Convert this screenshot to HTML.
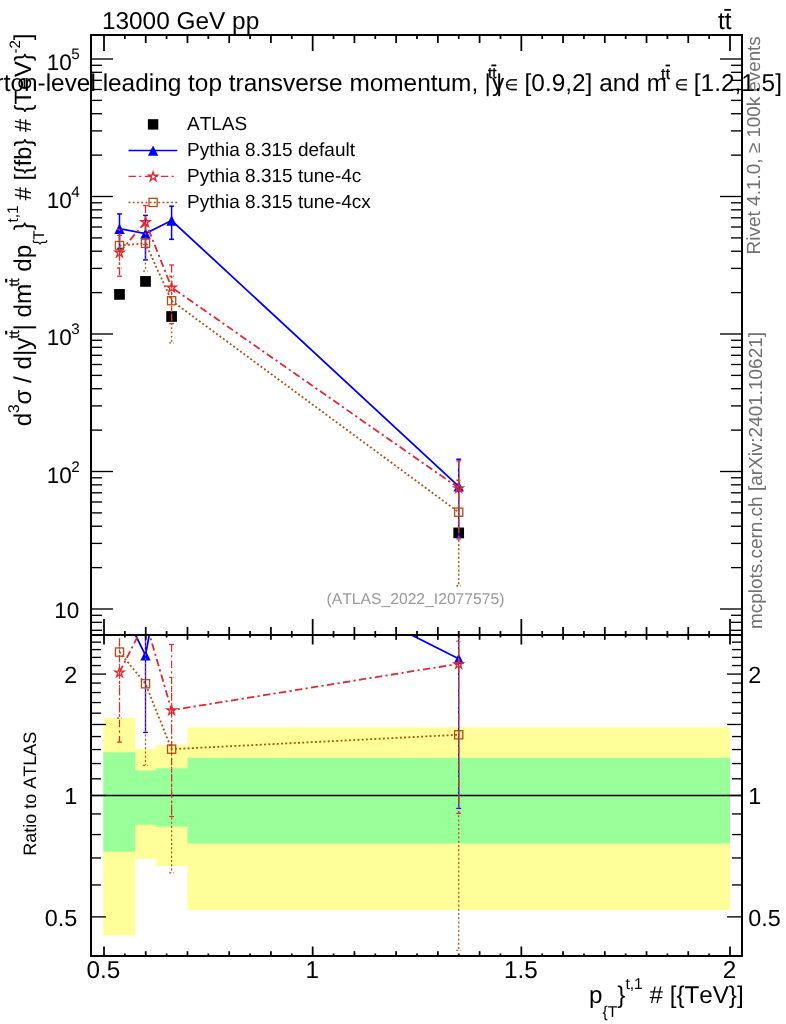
<!DOCTYPE html>
<html><head><meta charset="utf-8"><title>plot</title><style>html,body{margin:0;padding:0;background:#fff}body{width:786px;height:1024px;overflow:hidden}</style></head><body>
<svg width="786" height="1024" viewBox="0 0 786 1024" font-family="'Liberation Sans', sans-serif" xml:space="preserve" style="display:block;white-space:pre;font-kerning:none;text-rendering:geometricPrecision;will-change:transform">
<rect width="786" height="1024" fill="#fff"/>
<defs>
<clipPath id="cm"><rect x="91.0" y="35.0" width="651.0" height="600.0"/></clipPath>
<clipPath id="cr"><rect x="91.0" y="635.0" width="651.0" height="321.0"/></clipPath>
</defs>
<path d="M103.30 718.00 L135.30 718.00 L135.30 748.90 L156.17 748.90 L156.17 745.00 L187.47 745.00 L187.47 727.20 L730.00 727.20 L730.00 910.00 L187.47 910.00 L187.47 865.90 L156.17 865.90 L156.17 858.90 L135.30 858.90 L135.30 935.50 L103.30 935.50 Z" fill="#ffff99"/>
<path d="M103.30 752.20 L135.30 752.20 L135.30 770.50 L156.17 770.50 L156.17 768.20 L187.47 768.20 L187.47 757.70 L730.00 757.70 L730.00 843.60 L187.47 843.60 L187.47 826.80 L156.17 826.80 L156.17 824.80 L135.30 824.80 L135.30 851.70 L103.30 851.70 Z" fill="#99ff99"/>
<line x1="91.0" y1="795.5" x2="742.0" y2="795.5" stroke="#000" stroke-width="1.3"/>
<g clip-path="url(#cm)">
<rect x="114.15" y="289.05" width="10.7" height="10.7" fill="#000"/>
<rect x="140.15" y="276.05" width="10.7" height="10.7" fill="#000"/>
<rect x="166.25" y="311.15" width="10.7" height="10.7" fill="#000"/>
<rect x="453.35" y="527.55" width="10.7" height="10.7" fill="#000"/>
<polyline points="119.50,228.70 145.50,233.60 171.60,220.50 458.70,486.30" fill="none" stroke="#0000ff" stroke-width="1.8" />
<line x1="119.50" y1="213.90" x2="119.50" y2="248.42" stroke="#0000ff" stroke-width="1.5" /><line x1="117.10" y1="213.90" x2="121.90" y2="213.90" stroke="#0000ff" stroke-width="1.5" /><line x1="117.10" y1="248.42" x2="121.90" y2="248.42" stroke="#0000ff" stroke-width="1.5" />
<line x1="145.50" y1="215.40" x2="145.50" y2="259.91" stroke="#0000ff" stroke-width="1.5" /><line x1="143.10" y1="215.40" x2="147.90" y2="215.40" stroke="#0000ff" stroke-width="1.5" /><line x1="143.10" y1="259.91" x2="147.90" y2="259.91" stroke="#0000ff" stroke-width="1.5" />
<line x1="171.60" y1="206.20" x2="171.60" y2="239.34" stroke="#0000ff" stroke-width="1.5" /><line x1="169.20" y1="206.20" x2="174.00" y2="206.20" stroke="#0000ff" stroke-width="1.5" /><line x1="169.20" y1="239.34" x2="174.00" y2="239.34" stroke="#0000ff" stroke-width="1.5" />
<line x1="458.70" y1="459.20" x2="458.70" y2="537.30" stroke="#0000ff" stroke-width="1.5" /><line x1="456.30" y1="459.20" x2="461.10" y2="459.20" stroke="#0000ff" stroke-width="1.5" /><line x1="456.30" y1="537.30" x2="461.10" y2="537.30" stroke="#0000ff" stroke-width="1.5" />
<polygon points="119.50,223.50 114.30,233.90 124.70,233.90" fill="#0000ff"/>
<polygon points="145.50,228.40 140.30,238.80 150.70,238.80" fill="#0000ff"/>
<polygon points="171.60,215.30 166.40,225.70 176.80,225.70" fill="#0000ff"/>
<polygon points="458.70,481.10 453.50,491.50 463.90,491.50" fill="#0000ff"/>
<polyline points="119.50,252.40 145.50,221.90 171.60,287.40 458.70,488.00" fill="none" stroke="#e32832" stroke-width="1.8" stroke-dasharray="7.4 3.3 2.2 3.3"/>
<line x1="119.50" y1="235.43" x2="119.50" y2="276.20" stroke="#e32832" stroke-width="1.3" stroke-dasharray="7.4 3.3 2.2 3.3"/><line x1="117.10" y1="235.43" x2="121.90" y2="235.43" stroke="#e32832" stroke-width="1.3" stroke-dasharray="7.4 3.3 2.2 3.3"/><line x1="117.10" y1="276.20" x2="121.90" y2="276.20" stroke="#e32832" stroke-width="1.3" stroke-dasharray="7.4 3.3 2.2 3.3"/>
<line x1="145.50" y1="205.50" x2="145.50" y2="244.58" stroke="#e32832" stroke-width="1.3" stroke-dasharray="7.4 3.3 2.2 3.3"/><line x1="143.10" y1="205.50" x2="147.90" y2="205.50" stroke="#e32832" stroke-width="1.3" stroke-dasharray="7.4 3.3 2.2 3.3"/><line x1="143.10" y1="244.58" x2="147.90" y2="244.58" stroke="#e32832" stroke-width="1.3" stroke-dasharray="7.4 3.3 2.2 3.3"/>
<line x1="171.60" y1="265.00" x2="171.60" y2="323.66" stroke="#e32832" stroke-width="1.3" stroke-dasharray="7.4 3.3 2.2 3.3"/><line x1="169.20" y1="265.00" x2="174.00" y2="265.00" stroke="#e32832" stroke-width="1.3" stroke-dasharray="7.4 3.3 2.2 3.3"/><line x1="169.20" y1="323.66" x2="174.00" y2="323.66" stroke="#e32832" stroke-width="1.3" stroke-dasharray="7.4 3.3 2.2 3.3"/>
<line x1="458.70" y1="460.90" x2="458.70" y2="539.00" stroke="#e32832" stroke-width="1.3" stroke-dasharray="7.4 3.3 2.2 3.3"/><line x1="456.30" y1="460.90" x2="461.10" y2="460.90" stroke="#e32832" stroke-width="1.3" stroke-dasharray="7.4 3.3 2.2 3.3"/><line x1="456.30" y1="539.00" x2="461.10" y2="539.00" stroke="#e32832" stroke-width="1.3" stroke-dasharray="7.4 3.3 2.2 3.3"/>
<polygon points="119.50,247.85 120.59,251.20 124.11,251.20 121.26,253.27 122.35,256.62 119.50,254.55 116.65,256.62 117.74,253.27 114.89,251.20 118.41,251.20" fill="none" stroke="#e32832" stroke-width="1.35" stroke-linejoin="miter"/>
<polygon points="145.50,217.35 146.59,220.70 150.11,220.70 147.26,222.77 148.35,226.12 145.50,224.05 142.65,226.12 143.74,222.77 140.89,220.70 144.41,220.70" fill="none" stroke="#e32832" stroke-width="1.35" stroke-linejoin="miter"/>
<polygon points="171.60,282.85 172.69,286.20 176.21,286.20 173.36,288.27 174.45,291.62 171.60,289.55 168.75,291.62 169.84,288.27 166.99,286.20 170.51,286.20" fill="none" stroke="#e32832" stroke-width="1.35" stroke-linejoin="miter"/>
<polygon points="458.70,483.45 459.79,486.80 463.31,486.80 460.46,488.87 461.55,492.22 458.70,490.15 455.85,492.22 456.94,488.87 454.09,486.80 457.61,486.80" fill="none" stroke="#e32832" stroke-width="1.35" stroke-linejoin="miter"/>
<polyline points="119.50,245.50 145.50,243.30 171.60,300.70 458.70,512.20" fill="none" stroke="#b04e14" stroke-width="1.8" stroke-dasharray="1.9 2.35"/>
<line x1="119.50" y1="229.20" x2="119.50" y2="268.00" stroke="#b04e14" stroke-width="1.4" stroke-dasharray="1.9 2.35"/><line x1="117.10" y1="229.20" x2="121.90" y2="229.20" stroke="#b04e14" stroke-width="1.4" stroke-dasharray="1.9 2.35"/><line x1="117.10" y1="268.00" x2="121.90" y2="268.00" stroke="#b04e14" stroke-width="1.4" stroke-dasharray="1.9 2.35"/>
<line x1="145.50" y1="224.40" x2="145.50" y2="271.10" stroke="#b04e14" stroke-width="1.4" stroke-dasharray="1.9 2.35"/><line x1="143.10" y1="224.40" x2="147.90" y2="224.40" stroke="#b04e14" stroke-width="1.4" stroke-dasharray="1.9 2.35"/><line x1="143.10" y1="271.10" x2="147.90" y2="271.10" stroke="#b04e14" stroke-width="1.4" stroke-dasharray="1.9 2.35"/>
<line x1="171.60" y1="276.22" x2="171.60" y2="342.90" stroke="#b04e14" stroke-width="1.4" stroke-dasharray="1.9 2.35"/><line x1="169.20" y1="276.22" x2="174.00" y2="276.22" stroke="#b04e14" stroke-width="1.4" stroke-dasharray="1.9 2.35"/><line x1="169.20" y1="342.90" x2="174.00" y2="342.90" stroke="#b04e14" stroke-width="1.4" stroke-dasharray="1.9 2.35"/>
<line x1="458.70" y1="480.23" x2="458.70" y2="585.70" stroke="#b04e14" stroke-width="1.4" stroke-dasharray="1.9 2.35"/><line x1="456.30" y1="480.23" x2="461.10" y2="480.23" stroke="#b04e14" stroke-width="1.4" stroke-dasharray="1.9 2.35"/><line x1="456.30" y1="585.70" x2="461.10" y2="585.70" stroke="#b04e14" stroke-width="1.4" stroke-dasharray="1.9 2.35"/>
<rect x="115.40" y="241.40" width="8.2" height="8.2" fill="none" stroke="#b04e14" stroke-width="1.3"/>
<rect x="141.40" y="239.20" width="8.2" height="8.2" fill="none" stroke="#b04e14" stroke-width="1.3"/>
<rect x="167.50" y="296.60" width="8.2" height="8.2" fill="none" stroke="#b04e14" stroke-width="1.3"/>
<rect x="454.60" y="508.10" width="8.2" height="8.2" fill="none" stroke="#b04e14" stroke-width="1.3"/>
</g>
<g clip-path="url(#cr)">
<polyline points="119.50,602.80 145.50,655.30 171.60,513.92 458.70,658.82" fill="none" stroke="#0000ff" stroke-width="1.8" />
<line x1="145.50" y1="601.92" x2="145.50" y2="732.46" stroke="#0000ff" stroke-width="1.3" /><line x1="143.10" y1="601.92" x2="147.90" y2="601.92" stroke="#0000ff" stroke-width="1.3" /><line x1="143.10" y1="732.46" x2="147.90" y2="732.46" stroke="#0000ff" stroke-width="1.3" />
<line x1="458.70" y1="579.33" x2="458.70" y2="808.41" stroke="#0000ff" stroke-width="1.3" /><line x1="456.30" y1="579.33" x2="461.10" y2="579.33" stroke="#0000ff" stroke-width="1.3" /><line x1="456.30" y1="808.41" x2="461.10" y2="808.41" stroke="#0000ff" stroke-width="1.3" />
<polygon points="119.50,597.60 114.30,608.00 124.70,608.00" fill="#0000ff"/>
<polygon points="145.50,650.10 140.30,660.50 150.70,660.50" fill="#0000ff"/>
<polygon points="171.60,508.72 166.40,519.12 176.80,519.12" fill="#0000ff"/>
<polygon points="458.70,653.62 453.50,664.02 463.90,664.02" fill="#0000ff"/>
<polyline points="119.50,672.31 145.50,620.98 171.60,710.15 458.70,663.80" fill="none" stroke="#e32832" stroke-width="1.8" stroke-dasharray="7.4 3.3 2.2 3.3"/>
<line x1="119.50" y1="622.53" x2="119.50" y2="742.12" stroke="#e32832" stroke-width="1.2" stroke-dasharray="7.4 3.3 2.2 3.3"/><line x1="117.10" y1="622.53" x2="121.90" y2="622.53" stroke="#e32832" stroke-width="1.2" stroke-dasharray="7.4 3.3 2.2 3.3"/><line x1="117.10" y1="742.12" x2="121.90" y2="742.12" stroke="#e32832" stroke-width="1.2" stroke-dasharray="7.4 3.3 2.2 3.3"/>
<line x1="171.60" y1="644.45" x2="171.60" y2="816.51" stroke="#e32832" stroke-width="1.2" stroke-dasharray="7.4 3.3 2.2 3.3"/><line x1="169.20" y1="644.45" x2="174.00" y2="644.45" stroke="#e32832" stroke-width="1.2" stroke-dasharray="7.4 3.3 2.2 3.3"/><line x1="169.20" y1="816.51" x2="174.00" y2="816.51" stroke="#e32832" stroke-width="1.2" stroke-dasharray="7.4 3.3 2.2 3.3"/>
<line x1="458.70" y1="584.32" x2="458.70" y2="813.39" stroke="#e32832" stroke-width="1.2" stroke-dasharray="7.4 3.3 2.2 3.3"/><line x1="456.30" y1="584.32" x2="461.10" y2="584.32" stroke="#e32832" stroke-width="1.2" stroke-dasharray="7.4 3.3 2.2 3.3"/><line x1="456.30" y1="813.39" x2="461.10" y2="813.39" stroke="#e32832" stroke-width="1.2" stroke-dasharray="7.4 3.3 2.2 3.3"/>
<polygon points="119.50,667.76 120.59,671.11 124.11,671.11 121.26,673.18 122.35,676.53 119.50,674.46 116.65,676.53 117.74,673.18 114.89,671.11 118.41,671.11" fill="none" stroke="#e32832" stroke-width="1.35" stroke-linejoin="miter"/>
<polygon points="145.50,616.43 146.59,619.78 150.11,619.78 147.26,621.85 148.35,625.20 145.50,623.13 142.65,625.20 143.74,621.85 140.89,619.78 144.41,619.78" fill="none" stroke="#e32832" stroke-width="1.35" stroke-linejoin="miter"/>
<polygon points="171.60,705.60 172.69,708.95 176.21,708.95 173.36,711.02 174.45,714.37 171.60,712.30 168.75,714.37 169.84,711.02 166.99,708.95 170.51,708.95" fill="none" stroke="#e32832" stroke-width="1.35" stroke-linejoin="miter"/>
<polygon points="458.70,659.25 459.79,662.61 463.31,662.61 460.46,664.68 461.55,668.03 458.70,665.96 455.85,668.03 456.94,664.68 454.09,662.61 457.61,662.61" fill="none" stroke="#e32832" stroke-width="1.35" stroke-linejoin="miter"/>
<polyline points="119.50,652.07 145.50,683.75 171.60,749.16 458.70,734.79" fill="none" stroke="#b04e14" stroke-width="1.8" stroke-dasharray="1.9 2.35"/>
<line x1="119.50" y1="604.25" x2="119.50" y2="718.07" stroke="#b04e14" stroke-width="1.2" stroke-dasharray="1.9 2.35"/><line x1="117.10" y1="604.25" x2="121.90" y2="604.25" stroke="#b04e14" stroke-width="1.2" stroke-dasharray="1.9 2.35"/><line x1="117.10" y1="718.07" x2="121.90" y2="718.07" stroke="#b04e14" stroke-width="1.2" stroke-dasharray="1.9 2.35"/>
<line x1="145.50" y1="628.33" x2="145.50" y2="765.29" stroke="#b04e14" stroke-width="1.2" stroke-dasharray="1.9 2.35"/><line x1="143.10" y1="628.33" x2="147.90" y2="628.33" stroke="#b04e14" stroke-width="1.2" stroke-dasharray="1.9 2.35"/><line x1="143.10" y1="765.29" x2="147.90" y2="765.29" stroke="#b04e14" stroke-width="1.2" stroke-dasharray="1.9 2.35"/>
<line x1="171.60" y1="677.36" x2="171.60" y2="872.93" stroke="#b04e14" stroke-width="1.2" stroke-dasharray="1.9 2.35"/><line x1="169.20" y1="677.36" x2="174.00" y2="677.36" stroke="#b04e14" stroke-width="1.2" stroke-dasharray="1.9 2.35"/><line x1="169.20" y1="872.93" x2="174.00" y2="872.93" stroke="#b04e14" stroke-width="1.2" stroke-dasharray="1.9 2.35"/>
<line x1="458.70" y1="641.03" x2="458.70" y2="950.37" stroke="#b04e14" stroke-width="1.2" stroke-dasharray="1.9 2.35"/><line x1="456.30" y1="641.03" x2="461.10" y2="641.03" stroke="#b04e14" stroke-width="1.2" stroke-dasharray="1.9 2.35"/><line x1="456.30" y1="950.37" x2="461.10" y2="950.37" stroke="#b04e14" stroke-width="1.2" stroke-dasharray="1.9 2.35"/>
<rect x="115.40" y="647.97" width="8.2" height="8.2" fill="none" stroke="#b04e14" stroke-width="1.3"/>
<rect x="141.40" y="679.65" width="8.2" height="8.2" fill="none" stroke="#b04e14" stroke-width="1.3"/>
<rect x="167.50" y="745.06" width="8.2" height="8.2" fill="none" stroke="#b04e14" stroke-width="1.3"/>
<rect x="454.60" y="730.69" width="8.2" height="8.2" fill="none" stroke="#b04e14" stroke-width="1.3"/>
</g>
<line x1="104.00" y1="35.00" x2="104.00" y2="51.00" stroke="#000" stroke-width="1.75"/>
<line x1="104.00" y1="635.00" x2="104.00" y2="619.00" stroke="#000" stroke-width="1.75"/>
<line x1="104.00" y1="635.00" x2="104.00" y2="644.50" stroke="#000" stroke-width="1.75"/>
<line x1="104.00" y1="956.00" x2="104.00" y2="946.50" stroke="#000" stroke-width="1.75"/>
<line x1="124.87" y1="35.00" x2="124.87" y2="39.00" stroke="#000" stroke-width="1.75"/>
<line x1="124.87" y1="635.00" x2="124.87" y2="631.00" stroke="#000" stroke-width="1.75"/>
<line x1="124.87" y1="635.00" x2="124.87" y2="637.50" stroke="#000" stroke-width="1.75"/>
<line x1="124.87" y1="956.00" x2="124.87" y2="953.50" stroke="#000" stroke-width="1.75"/>
<line x1="145.73" y1="35.00" x2="145.73" y2="43.00" stroke="#000" stroke-width="1.75"/>
<line x1="145.73" y1="635.00" x2="145.73" y2="627.00" stroke="#000" stroke-width="1.75"/>
<line x1="145.73" y1="635.00" x2="145.73" y2="639.80" stroke="#000" stroke-width="1.75"/>
<line x1="145.73" y1="956.00" x2="145.73" y2="951.20" stroke="#000" stroke-width="1.75"/>
<line x1="166.60" y1="35.00" x2="166.60" y2="39.00" stroke="#000" stroke-width="1.75"/>
<line x1="166.60" y1="635.00" x2="166.60" y2="631.00" stroke="#000" stroke-width="1.75"/>
<line x1="166.60" y1="635.00" x2="166.60" y2="637.50" stroke="#000" stroke-width="1.75"/>
<line x1="166.60" y1="956.00" x2="166.60" y2="953.50" stroke="#000" stroke-width="1.75"/>
<line x1="187.47" y1="35.00" x2="187.47" y2="43.00" stroke="#000" stroke-width="1.75"/>
<line x1="187.47" y1="635.00" x2="187.47" y2="627.00" stroke="#000" stroke-width="1.75"/>
<line x1="187.47" y1="635.00" x2="187.47" y2="639.80" stroke="#000" stroke-width="1.75"/>
<line x1="187.47" y1="956.00" x2="187.47" y2="951.20" stroke="#000" stroke-width="1.75"/>
<line x1="208.33" y1="35.00" x2="208.33" y2="39.00" stroke="#000" stroke-width="1.75"/>
<line x1="208.33" y1="635.00" x2="208.33" y2="631.00" stroke="#000" stroke-width="1.75"/>
<line x1="208.33" y1="635.00" x2="208.33" y2="637.50" stroke="#000" stroke-width="1.75"/>
<line x1="208.33" y1="956.00" x2="208.33" y2="953.50" stroke="#000" stroke-width="1.75"/>
<line x1="229.20" y1="35.00" x2="229.20" y2="43.00" stroke="#000" stroke-width="1.75"/>
<line x1="229.20" y1="635.00" x2="229.20" y2="627.00" stroke="#000" stroke-width="1.75"/>
<line x1="229.20" y1="635.00" x2="229.20" y2="639.80" stroke="#000" stroke-width="1.75"/>
<line x1="229.20" y1="956.00" x2="229.20" y2="951.20" stroke="#000" stroke-width="1.75"/>
<line x1="250.07" y1="35.00" x2="250.07" y2="39.00" stroke="#000" stroke-width="1.75"/>
<line x1="250.07" y1="635.00" x2="250.07" y2="631.00" stroke="#000" stroke-width="1.75"/>
<line x1="250.07" y1="635.00" x2="250.07" y2="637.50" stroke="#000" stroke-width="1.75"/>
<line x1="250.07" y1="956.00" x2="250.07" y2="953.50" stroke="#000" stroke-width="1.75"/>
<line x1="270.93" y1="35.00" x2="270.93" y2="43.00" stroke="#000" stroke-width="1.75"/>
<line x1="270.93" y1="635.00" x2="270.93" y2="627.00" stroke="#000" stroke-width="1.75"/>
<line x1="270.93" y1="635.00" x2="270.93" y2="639.80" stroke="#000" stroke-width="1.75"/>
<line x1="270.93" y1="956.00" x2="270.93" y2="951.20" stroke="#000" stroke-width="1.75"/>
<line x1="291.80" y1="35.00" x2="291.80" y2="39.00" stroke="#000" stroke-width="1.75"/>
<line x1="291.80" y1="635.00" x2="291.80" y2="631.00" stroke="#000" stroke-width="1.75"/>
<line x1="291.80" y1="635.00" x2="291.80" y2="637.50" stroke="#000" stroke-width="1.75"/>
<line x1="291.80" y1="956.00" x2="291.80" y2="953.50" stroke="#000" stroke-width="1.75"/>
<line x1="312.67" y1="35.00" x2="312.67" y2="51.00" stroke="#000" stroke-width="1.75"/>
<line x1="312.67" y1="635.00" x2="312.67" y2="619.00" stroke="#000" stroke-width="1.75"/>
<line x1="312.67" y1="635.00" x2="312.67" y2="644.50" stroke="#000" stroke-width="1.75"/>
<line x1="312.67" y1="956.00" x2="312.67" y2="946.50" stroke="#000" stroke-width="1.75"/>
<line x1="333.53" y1="35.00" x2="333.53" y2="39.00" stroke="#000" stroke-width="1.75"/>
<line x1="333.53" y1="635.00" x2="333.53" y2="631.00" stroke="#000" stroke-width="1.75"/>
<line x1="333.53" y1="635.00" x2="333.53" y2="637.50" stroke="#000" stroke-width="1.75"/>
<line x1="333.53" y1="956.00" x2="333.53" y2="953.50" stroke="#000" stroke-width="1.75"/>
<line x1="354.40" y1="35.00" x2="354.40" y2="43.00" stroke="#000" stroke-width="1.75"/>
<line x1="354.40" y1="635.00" x2="354.40" y2="627.00" stroke="#000" stroke-width="1.75"/>
<line x1="354.40" y1="635.00" x2="354.40" y2="639.80" stroke="#000" stroke-width="1.75"/>
<line x1="354.40" y1="956.00" x2="354.40" y2="951.20" stroke="#000" stroke-width="1.75"/>
<line x1="375.27" y1="35.00" x2="375.27" y2="39.00" stroke="#000" stroke-width="1.75"/>
<line x1="375.27" y1="635.00" x2="375.27" y2="631.00" stroke="#000" stroke-width="1.75"/>
<line x1="375.27" y1="635.00" x2="375.27" y2="637.50" stroke="#000" stroke-width="1.75"/>
<line x1="375.27" y1="956.00" x2="375.27" y2="953.50" stroke="#000" stroke-width="1.75"/>
<line x1="396.13" y1="35.00" x2="396.13" y2="43.00" stroke="#000" stroke-width="1.75"/>
<line x1="396.13" y1="635.00" x2="396.13" y2="627.00" stroke="#000" stroke-width="1.75"/>
<line x1="396.13" y1="635.00" x2="396.13" y2="639.80" stroke="#000" stroke-width="1.75"/>
<line x1="396.13" y1="956.00" x2="396.13" y2="951.20" stroke="#000" stroke-width="1.75"/>
<line x1="417.00" y1="35.00" x2="417.00" y2="39.00" stroke="#000" stroke-width="1.75"/>
<line x1="417.00" y1="635.00" x2="417.00" y2="631.00" stroke="#000" stroke-width="1.75"/>
<line x1="417.00" y1="635.00" x2="417.00" y2="637.50" stroke="#000" stroke-width="1.75"/>
<line x1="417.00" y1="956.00" x2="417.00" y2="953.50" stroke="#000" stroke-width="1.75"/>
<line x1="437.87" y1="35.00" x2="437.87" y2="43.00" stroke="#000" stroke-width="1.75"/>
<line x1="437.87" y1="635.00" x2="437.87" y2="627.00" stroke="#000" stroke-width="1.75"/>
<line x1="437.87" y1="635.00" x2="437.87" y2="639.80" stroke="#000" stroke-width="1.75"/>
<line x1="437.87" y1="956.00" x2="437.87" y2="951.20" stroke="#000" stroke-width="1.75"/>
<line x1="458.73" y1="35.00" x2="458.73" y2="39.00" stroke="#000" stroke-width="1.75"/>
<line x1="458.73" y1="635.00" x2="458.73" y2="631.00" stroke="#000" stroke-width="1.75"/>
<line x1="458.73" y1="635.00" x2="458.73" y2="637.50" stroke="#000" stroke-width="1.75"/>
<line x1="458.73" y1="956.00" x2="458.73" y2="953.50" stroke="#000" stroke-width="1.75"/>
<line x1="479.60" y1="35.00" x2="479.60" y2="43.00" stroke="#000" stroke-width="1.75"/>
<line x1="479.60" y1="635.00" x2="479.60" y2="627.00" stroke="#000" stroke-width="1.75"/>
<line x1="479.60" y1="635.00" x2="479.60" y2="639.80" stroke="#000" stroke-width="1.75"/>
<line x1="479.60" y1="956.00" x2="479.60" y2="951.20" stroke="#000" stroke-width="1.75"/>
<line x1="500.47" y1="35.00" x2="500.47" y2="39.00" stroke="#000" stroke-width="1.75"/>
<line x1="500.47" y1="635.00" x2="500.47" y2="631.00" stroke="#000" stroke-width="1.75"/>
<line x1="500.47" y1="635.00" x2="500.47" y2="637.50" stroke="#000" stroke-width="1.75"/>
<line x1="500.47" y1="956.00" x2="500.47" y2="953.50" stroke="#000" stroke-width="1.75"/>
<line x1="521.33" y1="35.00" x2="521.33" y2="51.00" stroke="#000" stroke-width="1.75"/>
<line x1="521.33" y1="635.00" x2="521.33" y2="619.00" stroke="#000" stroke-width="1.75"/>
<line x1="521.33" y1="635.00" x2="521.33" y2="644.50" stroke="#000" stroke-width="1.75"/>
<line x1="521.33" y1="956.00" x2="521.33" y2="946.50" stroke="#000" stroke-width="1.75"/>
<line x1="542.20" y1="35.00" x2="542.20" y2="39.00" stroke="#000" stroke-width="1.75"/>
<line x1="542.20" y1="635.00" x2="542.20" y2="631.00" stroke="#000" stroke-width="1.75"/>
<line x1="542.20" y1="635.00" x2="542.20" y2="637.50" stroke="#000" stroke-width="1.75"/>
<line x1="542.20" y1="956.00" x2="542.20" y2="953.50" stroke="#000" stroke-width="1.75"/>
<line x1="563.07" y1="35.00" x2="563.07" y2="43.00" stroke="#000" stroke-width="1.75"/>
<line x1="563.07" y1="635.00" x2="563.07" y2="627.00" stroke="#000" stroke-width="1.75"/>
<line x1="563.07" y1="635.00" x2="563.07" y2="639.80" stroke="#000" stroke-width="1.75"/>
<line x1="563.07" y1="956.00" x2="563.07" y2="951.20" stroke="#000" stroke-width="1.75"/>
<line x1="583.93" y1="35.00" x2="583.93" y2="39.00" stroke="#000" stroke-width="1.75"/>
<line x1="583.93" y1="635.00" x2="583.93" y2="631.00" stroke="#000" stroke-width="1.75"/>
<line x1="583.93" y1="635.00" x2="583.93" y2="637.50" stroke="#000" stroke-width="1.75"/>
<line x1="583.93" y1="956.00" x2="583.93" y2="953.50" stroke="#000" stroke-width="1.75"/>
<line x1="604.80" y1="35.00" x2="604.80" y2="43.00" stroke="#000" stroke-width="1.75"/>
<line x1="604.80" y1="635.00" x2="604.80" y2="627.00" stroke="#000" stroke-width="1.75"/>
<line x1="604.80" y1="635.00" x2="604.80" y2="639.80" stroke="#000" stroke-width="1.75"/>
<line x1="604.80" y1="956.00" x2="604.80" y2="951.20" stroke="#000" stroke-width="1.75"/>
<line x1="625.67" y1="35.00" x2="625.67" y2="39.00" stroke="#000" stroke-width="1.75"/>
<line x1="625.67" y1="635.00" x2="625.67" y2="631.00" stroke="#000" stroke-width="1.75"/>
<line x1="625.67" y1="635.00" x2="625.67" y2="637.50" stroke="#000" stroke-width="1.75"/>
<line x1="625.67" y1="956.00" x2="625.67" y2="953.50" stroke="#000" stroke-width="1.75"/>
<line x1="646.53" y1="35.00" x2="646.53" y2="43.00" stroke="#000" stroke-width="1.75"/>
<line x1="646.53" y1="635.00" x2="646.53" y2="627.00" stroke="#000" stroke-width="1.75"/>
<line x1="646.53" y1="635.00" x2="646.53" y2="639.80" stroke="#000" stroke-width="1.75"/>
<line x1="646.53" y1="956.00" x2="646.53" y2="951.20" stroke="#000" stroke-width="1.75"/>
<line x1="667.40" y1="35.00" x2="667.40" y2="39.00" stroke="#000" stroke-width="1.75"/>
<line x1="667.40" y1="635.00" x2="667.40" y2="631.00" stroke="#000" stroke-width="1.75"/>
<line x1="667.40" y1="635.00" x2="667.40" y2="637.50" stroke="#000" stroke-width="1.75"/>
<line x1="667.40" y1="956.00" x2="667.40" y2="953.50" stroke="#000" stroke-width="1.75"/>
<line x1="688.27" y1="35.00" x2="688.27" y2="43.00" stroke="#000" stroke-width="1.75"/>
<line x1="688.27" y1="635.00" x2="688.27" y2="627.00" stroke="#000" stroke-width="1.75"/>
<line x1="688.27" y1="635.00" x2="688.27" y2="639.80" stroke="#000" stroke-width="1.75"/>
<line x1="688.27" y1="956.00" x2="688.27" y2="951.20" stroke="#000" stroke-width="1.75"/>
<line x1="709.13" y1="35.00" x2="709.13" y2="39.00" stroke="#000" stroke-width="1.75"/>
<line x1="709.13" y1="635.00" x2="709.13" y2="631.00" stroke="#000" stroke-width="1.75"/>
<line x1="709.13" y1="635.00" x2="709.13" y2="637.50" stroke="#000" stroke-width="1.75"/>
<line x1="709.13" y1="956.00" x2="709.13" y2="953.50" stroke="#000" stroke-width="1.75"/>
<line x1="730.00" y1="35.00" x2="730.00" y2="51.00" stroke="#000" stroke-width="1.75"/>
<line x1="730.00" y1="635.00" x2="730.00" y2="619.00" stroke="#000" stroke-width="1.75"/>
<line x1="730.00" y1="635.00" x2="730.00" y2="644.50" stroke="#000" stroke-width="1.75"/>
<line x1="730.00" y1="956.00" x2="730.00" y2="946.50" stroke="#000" stroke-width="1.75"/>
<line x1="91.00" y1="630.30" x2="102.00" y2="630.30" stroke="#000" stroke-width="1.35"/>
<line x1="742.00" y1="630.30" x2="731.00" y2="630.30" stroke="#000" stroke-width="1.35"/>
<line x1="91.00" y1="622.33" x2="102.00" y2="622.33" stroke="#000" stroke-width="1.35"/>
<line x1="742.00" y1="622.33" x2="731.00" y2="622.33" stroke="#000" stroke-width="1.35"/>
<line x1="91.00" y1="615.29" x2="102.00" y2="615.29" stroke="#000" stroke-width="1.35"/>
<line x1="742.00" y1="615.29" x2="731.00" y2="615.29" stroke="#000" stroke-width="1.35"/>
<line x1="91.00" y1="609.00" x2="113.00" y2="609.00" stroke="#000" stroke-width="1.35"/>
<line x1="742.00" y1="609.00" x2="720.00" y2="609.00" stroke="#000" stroke-width="1.35"/>
<line x1="91.00" y1="567.61" x2="102.00" y2="567.61" stroke="#000" stroke-width="1.35"/>
<line x1="742.00" y1="567.61" x2="731.00" y2="567.61" stroke="#000" stroke-width="1.35"/>
<line x1="91.00" y1="543.40" x2="102.00" y2="543.40" stroke="#000" stroke-width="1.35"/>
<line x1="742.00" y1="543.40" x2="731.00" y2="543.40" stroke="#000" stroke-width="1.35"/>
<line x1="91.00" y1="526.22" x2="102.00" y2="526.22" stroke="#000" stroke-width="1.35"/>
<line x1="742.00" y1="526.22" x2="731.00" y2="526.22" stroke="#000" stroke-width="1.35"/>
<line x1="91.00" y1="512.89" x2="102.00" y2="512.89" stroke="#000" stroke-width="1.35"/>
<line x1="742.00" y1="512.89" x2="731.00" y2="512.89" stroke="#000" stroke-width="1.35"/>
<line x1="91.00" y1="502.00" x2="102.00" y2="502.00" stroke="#000" stroke-width="1.35"/>
<line x1="742.00" y1="502.00" x2="731.00" y2="502.00" stroke="#000" stroke-width="1.35"/>
<line x1="91.00" y1="492.80" x2="102.00" y2="492.80" stroke="#000" stroke-width="1.35"/>
<line x1="742.00" y1="492.80" x2="731.00" y2="492.80" stroke="#000" stroke-width="1.35"/>
<line x1="91.00" y1="484.83" x2="102.00" y2="484.83" stroke="#000" stroke-width="1.35"/>
<line x1="742.00" y1="484.83" x2="731.00" y2="484.83" stroke="#000" stroke-width="1.35"/>
<line x1="91.00" y1="477.79" x2="102.00" y2="477.79" stroke="#000" stroke-width="1.35"/>
<line x1="742.00" y1="477.79" x2="731.00" y2="477.79" stroke="#000" stroke-width="1.35"/>
<line x1="91.00" y1="471.50" x2="113.00" y2="471.50" stroke="#000" stroke-width="1.35"/>
<line x1="742.00" y1="471.50" x2="720.00" y2="471.50" stroke="#000" stroke-width="1.35"/>
<line x1="91.00" y1="430.11" x2="102.00" y2="430.11" stroke="#000" stroke-width="1.35"/>
<line x1="742.00" y1="430.11" x2="731.00" y2="430.11" stroke="#000" stroke-width="1.35"/>
<line x1="91.00" y1="405.90" x2="102.00" y2="405.90" stroke="#000" stroke-width="1.35"/>
<line x1="742.00" y1="405.90" x2="731.00" y2="405.90" stroke="#000" stroke-width="1.35"/>
<line x1="91.00" y1="388.72" x2="102.00" y2="388.72" stroke="#000" stroke-width="1.35"/>
<line x1="742.00" y1="388.72" x2="731.00" y2="388.72" stroke="#000" stroke-width="1.35"/>
<line x1="91.00" y1="375.39" x2="102.00" y2="375.39" stroke="#000" stroke-width="1.35"/>
<line x1="742.00" y1="375.39" x2="731.00" y2="375.39" stroke="#000" stroke-width="1.35"/>
<line x1="91.00" y1="364.50" x2="102.00" y2="364.50" stroke="#000" stroke-width="1.35"/>
<line x1="742.00" y1="364.50" x2="731.00" y2="364.50" stroke="#000" stroke-width="1.35"/>
<line x1="91.00" y1="355.30" x2="102.00" y2="355.30" stroke="#000" stroke-width="1.35"/>
<line x1="742.00" y1="355.30" x2="731.00" y2="355.30" stroke="#000" stroke-width="1.35"/>
<line x1="91.00" y1="347.33" x2="102.00" y2="347.33" stroke="#000" stroke-width="1.35"/>
<line x1="742.00" y1="347.33" x2="731.00" y2="347.33" stroke="#000" stroke-width="1.35"/>
<line x1="91.00" y1="340.29" x2="102.00" y2="340.29" stroke="#000" stroke-width="1.35"/>
<line x1="742.00" y1="340.29" x2="731.00" y2="340.29" stroke="#000" stroke-width="1.35"/>
<line x1="91.00" y1="334.00" x2="113.00" y2="334.00" stroke="#000" stroke-width="1.35"/>
<line x1="742.00" y1="334.00" x2="720.00" y2="334.00" stroke="#000" stroke-width="1.35"/>
<line x1="91.00" y1="292.61" x2="102.00" y2="292.61" stroke="#000" stroke-width="1.35"/>
<line x1="742.00" y1="292.61" x2="731.00" y2="292.61" stroke="#000" stroke-width="1.35"/>
<line x1="91.00" y1="268.40" x2="102.00" y2="268.40" stroke="#000" stroke-width="1.35"/>
<line x1="742.00" y1="268.40" x2="731.00" y2="268.40" stroke="#000" stroke-width="1.35"/>
<line x1="91.00" y1="251.22" x2="102.00" y2="251.22" stroke="#000" stroke-width="1.35"/>
<line x1="742.00" y1="251.22" x2="731.00" y2="251.22" stroke="#000" stroke-width="1.35"/>
<line x1="91.00" y1="237.89" x2="102.00" y2="237.89" stroke="#000" stroke-width="1.35"/>
<line x1="742.00" y1="237.89" x2="731.00" y2="237.89" stroke="#000" stroke-width="1.35"/>
<line x1="91.00" y1="227.00" x2="102.00" y2="227.00" stroke="#000" stroke-width="1.35"/>
<line x1="742.00" y1="227.00" x2="731.00" y2="227.00" stroke="#000" stroke-width="1.35"/>
<line x1="91.00" y1="217.80" x2="102.00" y2="217.80" stroke="#000" stroke-width="1.35"/>
<line x1="742.00" y1="217.80" x2="731.00" y2="217.80" stroke="#000" stroke-width="1.35"/>
<line x1="91.00" y1="209.83" x2="102.00" y2="209.83" stroke="#000" stroke-width="1.35"/>
<line x1="742.00" y1="209.83" x2="731.00" y2="209.83" stroke="#000" stroke-width="1.35"/>
<line x1="91.00" y1="202.79" x2="102.00" y2="202.79" stroke="#000" stroke-width="1.35"/>
<line x1="742.00" y1="202.79" x2="731.00" y2="202.79" stroke="#000" stroke-width="1.35"/>
<line x1="91.00" y1="196.50" x2="113.00" y2="196.50" stroke="#000" stroke-width="1.35"/>
<line x1="742.00" y1="196.50" x2="720.00" y2="196.50" stroke="#000" stroke-width="1.35"/>
<line x1="91.00" y1="155.11" x2="102.00" y2="155.11" stroke="#000" stroke-width="1.35"/>
<line x1="742.00" y1="155.11" x2="731.00" y2="155.11" stroke="#000" stroke-width="1.35"/>
<line x1="91.00" y1="130.90" x2="102.00" y2="130.90" stroke="#000" stroke-width="1.35"/>
<line x1="742.00" y1="130.90" x2="731.00" y2="130.90" stroke="#000" stroke-width="1.35"/>
<line x1="91.00" y1="113.72" x2="102.00" y2="113.72" stroke="#000" stroke-width="1.35"/>
<line x1="742.00" y1="113.72" x2="731.00" y2="113.72" stroke="#000" stroke-width="1.35"/>
<line x1="91.00" y1="100.39" x2="102.00" y2="100.39" stroke="#000" stroke-width="1.35"/>
<line x1="742.00" y1="100.39" x2="731.00" y2="100.39" stroke="#000" stroke-width="1.35"/>
<line x1="91.00" y1="89.50" x2="102.00" y2="89.50" stroke="#000" stroke-width="1.35"/>
<line x1="742.00" y1="89.50" x2="731.00" y2="89.50" stroke="#000" stroke-width="1.35"/>
<line x1="91.00" y1="80.30" x2="102.00" y2="80.30" stroke="#000" stroke-width="1.35"/>
<line x1="742.00" y1="80.30" x2="731.00" y2="80.30" stroke="#000" stroke-width="1.35"/>
<line x1="91.00" y1="72.33" x2="102.00" y2="72.33" stroke="#000" stroke-width="1.35"/>
<line x1="742.00" y1="72.33" x2="731.00" y2="72.33" stroke="#000" stroke-width="1.35"/>
<line x1="91.00" y1="65.29" x2="102.00" y2="65.29" stroke="#000" stroke-width="1.35"/>
<line x1="742.00" y1="65.29" x2="731.00" y2="65.29" stroke="#000" stroke-width="1.35"/>
<line x1="91.00" y1="59.00" x2="113.00" y2="59.00" stroke="#000" stroke-width="1.35"/>
<line x1="742.00" y1="59.00" x2="720.00" y2="59.00" stroke="#000" stroke-width="1.35"/>
<line x1="91.00" y1="916.89" x2="106.00" y2="916.89" stroke="#000" stroke-width="1.35"/>
<line x1="742.00" y1="916.89" x2="727.00" y2="916.89" stroke="#000" stroke-width="1.35"/>
<line x1="91.00" y1="884.96" x2="101.00" y2="884.96" stroke="#000" stroke-width="1.35"/>
<line x1="742.00" y1="884.96" x2="732.00" y2="884.96" stroke="#000" stroke-width="1.35"/>
<line x1="91.00" y1="857.96" x2="101.00" y2="857.96" stroke="#000" stroke-width="1.35"/>
<line x1="742.00" y1="857.96" x2="732.00" y2="857.96" stroke="#000" stroke-width="1.35"/>
<line x1="91.00" y1="834.57" x2="101.00" y2="834.57" stroke="#000" stroke-width="1.35"/>
<line x1="742.00" y1="834.57" x2="732.00" y2="834.57" stroke="#000" stroke-width="1.35"/>
<line x1="91.00" y1="813.94" x2="101.00" y2="813.94" stroke="#000" stroke-width="1.35"/>
<line x1="742.00" y1="813.94" x2="732.00" y2="813.94" stroke="#000" stroke-width="1.35"/>
<line x1="91.00" y1="795.49" x2="106.00" y2="795.49" stroke="#000" stroke-width="1.35"/>
<line x1="742.00" y1="795.49" x2="727.00" y2="795.49" stroke="#000" stroke-width="1.35"/>
<line x1="91.00" y1="778.80" x2="101.00" y2="778.80" stroke="#000" stroke-width="1.35"/>
<line x1="742.00" y1="778.80" x2="732.00" y2="778.80" stroke="#000" stroke-width="1.35"/>
<line x1="91.00" y1="763.56" x2="101.00" y2="763.56" stroke="#000" stroke-width="1.35"/>
<line x1="742.00" y1="763.56" x2="732.00" y2="763.56" stroke="#000" stroke-width="1.35"/>
<line x1="91.00" y1="749.54" x2="101.00" y2="749.54" stroke="#000" stroke-width="1.35"/>
<line x1="742.00" y1="749.54" x2="732.00" y2="749.54" stroke="#000" stroke-width="1.35"/>
<line x1="91.00" y1="736.56" x2="101.00" y2="736.56" stroke="#000" stroke-width="1.35"/>
<line x1="742.00" y1="736.56" x2="732.00" y2="736.56" stroke="#000" stroke-width="1.35"/>
<line x1="91.00" y1="724.47" x2="106.00" y2="724.47" stroke="#000" stroke-width="1.35"/>
<line x1="742.00" y1="724.47" x2="727.00" y2="724.47" stroke="#000" stroke-width="1.35"/>
<line x1="91.00" y1="713.17" x2="101.00" y2="713.17" stroke="#000" stroke-width="1.35"/>
<line x1="742.00" y1="713.17" x2="732.00" y2="713.17" stroke="#000" stroke-width="1.35"/>
<line x1="91.00" y1="702.55" x2="101.00" y2="702.55" stroke="#000" stroke-width="1.35"/>
<line x1="742.00" y1="702.55" x2="732.00" y2="702.55" stroke="#000" stroke-width="1.35"/>
<line x1="91.00" y1="692.54" x2="101.00" y2="692.54" stroke="#000" stroke-width="1.35"/>
<line x1="742.00" y1="692.54" x2="732.00" y2="692.54" stroke="#000" stroke-width="1.35"/>
<line x1="91.00" y1="683.07" x2="101.00" y2="683.07" stroke="#000" stroke-width="1.35"/>
<line x1="742.00" y1="683.07" x2="732.00" y2="683.07" stroke="#000" stroke-width="1.35"/>
<line x1="91.00" y1="674.08" x2="106.00" y2="674.08" stroke="#000" stroke-width="1.35"/>
<line x1="742.00" y1="674.08" x2="727.00" y2="674.08" stroke="#000" stroke-width="1.35"/>
<line x1="91.00" y1="665.54" x2="101.00" y2="665.54" stroke="#000" stroke-width="1.35"/>
<line x1="742.00" y1="665.54" x2="732.00" y2="665.54" stroke="#000" stroke-width="1.35"/>
<line x1="91.00" y1="657.39" x2="101.00" y2="657.39" stroke="#000" stroke-width="1.35"/>
<line x1="742.00" y1="657.39" x2="732.00" y2="657.39" stroke="#000" stroke-width="1.35"/>
<line x1="91.00" y1="649.60" x2="101.00" y2="649.60" stroke="#000" stroke-width="1.35"/>
<line x1="742.00" y1="649.60" x2="732.00" y2="649.60" stroke="#000" stroke-width="1.35"/>
<line x1="91.00" y1="642.15" x2="101.00" y2="642.15" stroke="#000" stroke-width="1.35"/>
<line x1="742.00" y1="642.15" x2="732.00" y2="642.15" stroke="#000" stroke-width="1.35"/>
<rect x="91.0" y="35.0" width="651.0" height="921.0" fill="none" stroke="#000" stroke-width="2"/>
<line x1="91.0" y1="635.0" x2="742.0" y2="635.0" stroke="#000" stroke-width="2"/>
<text x="101.90" y="28.70" font-size="24.4" text-anchor="start" fill="#000" >13000 GeV pp</text>
<text x="718.00" y="29.30" font-size="24.4" text-anchor="start" fill="#000" >tt</text>
<line x1="724.3" y1="9.85" x2="730.9" y2="9.85" stroke="#000" stroke-width="1.8"/>
<text x="103.50" y="978.30" font-size="24.3" text-anchor="middle" fill="#000" >0.5</text>
<text x="312.17" y="978.30" font-size="24.3" text-anchor="middle" fill="#000" >1</text>
<text x="520.83" y="978.30" font-size="24.3" text-anchor="middle" fill="#000" >1.5</text>
<text x="729.50" y="978.30" font-size="24.3" text-anchor="middle" fill="#000" >2</text>
<text x="79.30" y="617.60" font-size="22.5" text-anchor="end" fill="#000" >10</text>
<text x="46.8" y="482.80" font-size="22.5" fill="#000">10<tspan font-size="15.3" dx="-0.7" dy="-11.3">2</tspan></text>
<text x="46.8" y="345.30" font-size="22.5" fill="#000">10<tspan font-size="15.3" dx="-0.7" dy="-11.3">3</tspan></text>
<text x="46.8" y="207.80" font-size="22.5" fill="#000">10<tspan font-size="15.3" dx="-0.7" dy="-11.3">4</tspan></text>
<text x="46.8" y="70.30" font-size="22.5" fill="#000">10<tspan font-size="15.3" dx="-0.7" dy="-11.3">5</tspan></text>
<text x="77.30" y="682.88" font-size="23.4" text-anchor="end" fill="#000" >2</text>
<text x="748.20" y="682.88" font-size="23.4" text-anchor="start" fill="#000" >2</text>
<text x="77.30" y="804.29" font-size="23.4" text-anchor="end" fill="#000" >1</text>
<text x="748.20" y="804.29" font-size="23.4" text-anchor="start" fill="#000" >1</text>
<text x="77.30" y="925.69" font-size="23.4" text-anchor="end" fill="#000" >0.5</text>
<text x="748.20" y="925.69" font-size="23.4" text-anchor="start" fill="#000" >0.5</text>
<rect x="147.90" y="119.20" width="10.4" height="10.4" fill="#000"/>
<line x1="128.5" y1="150.4" x2="177.3" y2="150.4" stroke="#0000ff" stroke-width="1.5"/>
<polygon points="153.10,145.40 147.90,155.80 158.30,155.80" fill="#0000ff"/>
<line x1="128.5" y1="176.4" x2="177.3" y2="176.4" stroke="#e32832" stroke-width="1.4" stroke-dasharray="7.4 3.3 2.2 3.3"/>
<polygon points="153.10,171.85 154.19,175.20 157.71,175.20 154.86,177.27 155.95,180.62 153.10,178.55 150.25,180.62 151.34,177.27 148.49,175.20 152.01,175.20" fill="none" stroke="#e32832" stroke-width="1.35" stroke-linejoin="miter"/>
<line x1="128.5" y1="202.4" x2="177.3" y2="202.4" stroke="#b04e14" stroke-width="1.5" stroke-dasharray="1.9 2.35"/>
<rect x="149.00" y="198.30" width="8.2" height="8.2" fill="none" stroke="#b04e14" stroke-width="1.3"/>
<text x="187.00" y="129.90" font-size="19.0" text-anchor="start" fill="#000" >ATLAS</text>
<text x="187.00" y="155.90" font-size="19.0" text-anchor="start" fill="#000" >Pythia 8.315 default</text>
<text x="187.00" y="181.90" font-size="19.0" text-anchor="start" fill="#000" >Pythia 8.315 tune-4c</text>
<text x="187.00" y="207.90" font-size="19.0" text-anchor="start" fill="#000" >Pythia 8.315 tune-4cx</text>
<text x="415.50" y="603.50" font-size="15.7" text-anchor="middle" fill="#999999" >(ATLAS_2022_I2077575)</text>
<text transform="translate(760.0,254.5) rotate(-90)" font-size="19" fill="#707070">Rivet 4.1.0,</text>
<text transform="translate(760.0,36.3) rotate(-90)" font-size="18.8" text-anchor="end" fill="#707070">≥ 100k events</text>
<text transform="translate(761.7,629.1) rotate(-90)" font-size="18.97" fill="#707070">mcplots.cern.ch [arXiv:2401.10621]</text>
<text transform="translate(36.1,855.8) rotate(-90)" font-size="18" fill="#000">Ratio to ATLAS</text>
<text x="-34.30" y="90.60" font-size="24.4" text-anchor="start" fill="#000" >Parton-level leading top transverse momentum,</text>
<text x="484.60" y="90.60" font-size="24.4" text-anchor="start" fill="#000" >|</text>
<text x="491.90" y="90.60" font-size="24.4" text-anchor="start" fill="#000" >y</text>
<text x="495.90" y="90.60" font-size="24.4" text-anchor="start" fill="#000" >|</text>
<text x="488.10" y="78.40" font-size="15.1" text-anchor="start" fill="#000" stroke="#000" stroke-width="0.35">tt</text>
<line x1="491.4" y1="65.4" x2="496.3" y2="65.4" stroke="#000" stroke-width="1.8"/>
<text x="504.80" y="90.20" font-size="15.2" text-anchor="start" fill="#000" font-family="'DejaVu Sans', sans-serif" stroke="#000" stroke-width="0.35">∈</text>
<text x="524.60" y="90.60" font-size="24.4" text-anchor="start" fill="#000" >[0.9,2] and m</text>
<text x="661.00" y="78.70" font-size="15.3" text-anchor="start" fill="#000" stroke="#000" stroke-width="0.35">t</text>
<text x="665.80" y="78.70" font-size="15.3" text-anchor="start" fill="#000" stroke="#000" stroke-width="0.35">t</text>
<line x1="665.6" y1="65.5" x2="669.9" y2="65.5" stroke="#000" stroke-width="1.8"/>
<text x="674.80" y="90.20" font-size="15.2" text-anchor="start" fill="#000" font-family="'DejaVu Sans', sans-serif" stroke="#000" stroke-width="0.35">∈</text>
<text x="693.80" y="90.60" font-size="24.4" text-anchor="start" fill="#000" >[1.2,1.5]</text>
<text x="589.10" y="1002.60" font-size="24.2" text-anchor="start" fill="#000" >p</text>
<text x="602.55" y="1017.40" font-size="15.6" text-anchor="start" fill="#000" >{T</text>
<text x="617.30" y="1002.60" font-size="24.2" text-anchor="start" fill="#000" >}</text>
<text x="625.40" y="988.80" font-size="15.6" text-anchor="start" fill="#000" >t,1</text>
<text x="649.50" y="1002.60" font-size="24.2" text-anchor="start" fill="#000" ># [{TeV}]</text>
<text transform="translate(31.1,426.3) rotate(-90)" font-size="24.3" fill="#000" >d</text>
<text transform="translate(19.2,413.0) rotate(-90)" font-size="15.5" fill="#000" >3</text>
<text transform="translate(31.1,404.4) rotate(-90)" font-size="24.3" fill="#000" >σ</text>
<text transform="translate(31.1,383.1) rotate(-90)" font-size="24.3" fill="#000" >/ d|y</text>
<text transform="translate(19.1,338.5) rotate(-90)" font-size="14.5" fill="#000" stroke="#000" stroke-width="0.35">tt</text>
<line x1="6.2" y1="334.5" x2="6.2" y2="330.8" stroke="#000" stroke-width="2.1"/>
<text transform="translate(31.1,330.5) rotate(-90)" font-size="24.3" fill="#000" >| dm</text>
<text transform="translate(19.0,286.6) rotate(-90)" font-size="14.5" fill="#000" stroke="#000" stroke-width="0.35">tt</text>
<line x1="6.2" y1="282.5" x2="6.2" y2="278.8" stroke="#000" stroke-width="2.1"/>
<text transform="translate(31.1,271.7) rotate(-90)" font-size="24.3" fill="#000" >dp</text>
<text transform="translate(43.6,245.0) rotate(-90)" font-size="15.5" fill="#000" >{T</text>
<text transform="translate(31.1,230.3) rotate(-90)" font-size="24.3" fill="#000" >}</text>
<text transform="translate(17.5,222.5) rotate(-90)" font-size="15.5" fill="#000" >t,1</text>
<text transform="translate(31.1,200.3) rotate(-90)" font-size="23.6" fill="#000" ># [{fb} # {TeV}</text>
<text transform="translate(20.0,53.6) rotate(-90)" font-size="15" fill="#000" >-2</text>
<text transform="translate(31.1,40.3) rotate(-90)" font-size="24.3" fill="#000" >]</text>
</svg>
</body></html>
